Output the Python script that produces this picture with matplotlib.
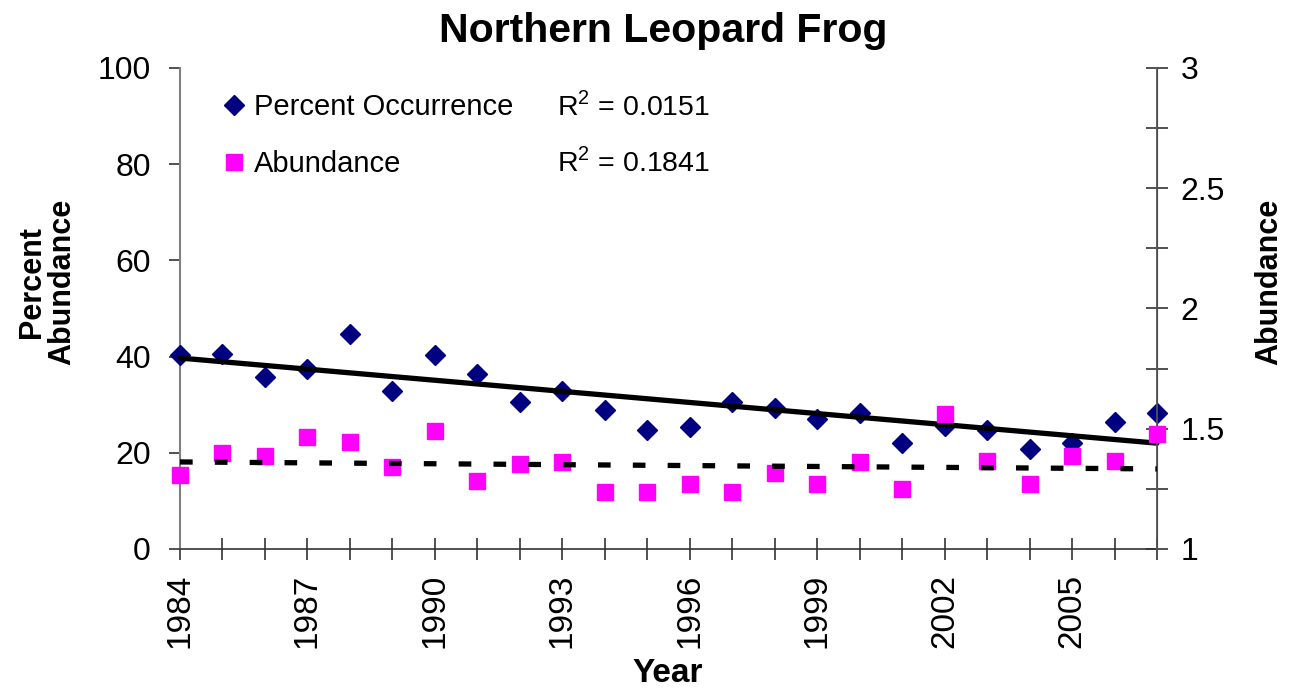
import matplotlib
matplotlib.use("Agg")
import matplotlib.pyplot as plt
from matplotlib.lines import Line2D
from matplotlib.ticker import MultipleLocator

plt.rcParams['font.family'] = ['Liberation Sans', 'DejaVu Sans']
plt.rcParams['mathtext.fontset'] = 'custom'
plt.rcParams['mathtext.rm'] = 'Liberation Sans'

years = list(range(1984, 2008))
percent_occurrence = [40.3, 40.5, 35.8, 37.4, 44.8, 32.8, 40.3, 36.4, 30.6, 32.8,
                      28.8, 24.7, 25.4, 30.5, 29.4, 27.0, 28.3, 22.0, 25.6, 24.7,
                      20.8, 22.0, 26.5, 28.2]
abundance = [1.306, 1.398, 1.387, 1.467, 1.444, 1.340, 1.491, 1.283, 1.352, 1.363,
             1.237, 1.237, 1.272, 1.237, 1.317, 1.272, 1.363, 1.248, 1.560, 1.365,
             1.272, 1.387, 1.365, 1.478]
trend_years = [1984, 2007]
occ_trend = [39.7, 22.0]
abund_trend = [1.362, 1.333]
xtick_years = [1984, 1987, 1990, 1993, 1996, 1999, 2002, 2005]
r2_labels = [r"R$^2$ = 0.0151", r"R$^2$ = 0.1841"]

W, H = 1295, 695
fig = plt.figure(figsize=(W / 100, H / 100), dpi=100)
ax = fig.add_axes([180 / W, 1 - 549 / H, (1157 - 180) / W, (549 - 68) / H])
ax2 = ax.twinx()

navy = '#000080'
magenta = '#FF00FF'

ax.plot(years, percent_occurrence, linestyle='none', marker='D', markersize=10,
        color=navy, clip_on=False, zorder=3)
ax.plot(trend_years, occ_trend, color='black', linewidth=3.8, solid_capstyle='round',
        clip_on=False, zorder=4)
ax2.plot(years, abundance, linestyle='none', marker='s', markersize=11,
         color=magenta, clip_on=False, zorder=3)
ax2.plot(trend_years, abund_trend, color='black', linewidth=3.8,
         linestyle=(0, (2.4, 4.2)), dash_capstyle='butt', clip_on=False, zorder=4)

ax.set_xlim(1984, 2007)
ax.set_ylim(0, 100)
ax2.set_ylim(1, 3)

ax.set_xticks(xtick_years)
ax.set_xticklabels([str(y) for y in xtick_years], rotation=90)
ax.xaxis.set_minor_locator(MultipleLocator(1))
ax.set_yticks([0, 20, 40, 60, 80, 100])
ax2.set_yticks([1, 1.5, 2, 2.5, 3])
ax2.set_yticklabels(['1', '1.5', '2', '2.5', '3'])
ax2.yaxis.set_minor_locator(MultipleLocator(0.25))

ax.tick_params(axis='x', which='both', direction='inout', length=16, width=1.2,
               color='#333333', labelsize=24, pad=10)
ax.tick_params(axis='y', which='both', direction='out', length=8, width=1.2,
               color='#333333', labelsize=23, pad=13)
ax2.tick_params(axis='y', which='both', direction='inout', length=16, width=1.2,
                color='#333333', labelsize=23, pad=9)

for a in (ax, ax2):
    a.spines['top'].set_visible(False)
    a.set_facecolor('none')
ax.spines['left'].set_color('#808080')
ax.spines['left'].set_linewidth(1.5)
ax.spines['bottom'].set_color('#333333')
ax.spines['bottom'].set_linewidth(1.2)
ax2.spines['right'].set_color('#555555')
ax2.spines['right'].set_linewidth(1.3)
ax2.spines['left'].set_visible(False)
ax2.spines['bottom'].set_visible(False)

fig.text(663 / W, 1 - 31 / H, 'Northern Leopard Frog', fontsize=29.5, fontweight='bold',
         ha='center', va='center')
fig.text(668 / W, 1 - 674 / H, 'Year', fontsize=24, fontweight='bold',
         ha='center', va='center')
fig.text(47 / W, 1 - 282 / H, 'Percent\nAbundance', fontsize=22, fontweight='bold',
         ha='center', va='center', rotation=90, multialignment='center', linespacing=1.0)
fig.text(1269 / W, 1 - 282 / H, 'Abundance', fontsize=22, fontweight='bold',
         ha='center', va='center', rotation=90)

handles = [Line2D([], [], linestyle='none', marker='D', markersize=10, color=navy),
           Line2D([], [], linestyle='none', marker='s', markersize=11, color=magenta)]
fig.legend(handles, ['Percent Occurrence', 'Abundance'], loc='upper left',
           bbox_to_anchor=(219 / W, 1 - 93 / H), bbox_transform=fig.transFigure,
           frameon=False, fontsize=21, handlelength=1.0, handletextpad=0.2,
           labelspacing=1.0, borderpad=0, borderaxespad=0)
fig.text(557 / W, 1 - 106 / H, r2_labels[0], fontsize=20.5, ha='left', va='center')
fig.text(557 / W, 1 - 162 / H, r2_labels[1], fontsize=20.5, ha='left', va='center')

fig.savefig('out.png', dpi=100)
